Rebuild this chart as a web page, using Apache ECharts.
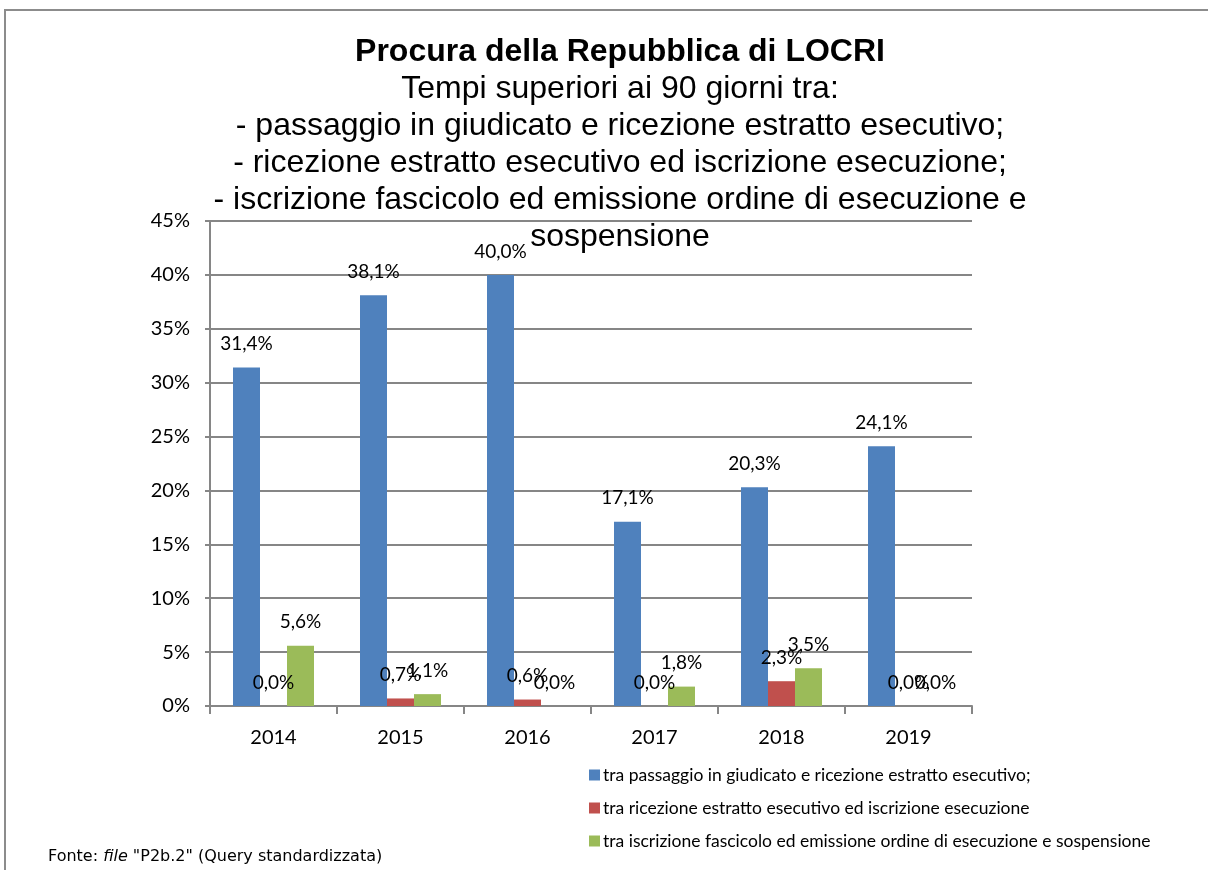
<!DOCTYPE html>
<html>
<head>
<meta charset="utf-8">
<title>Procura della Repubblica di LOCRI</title>
<script src="https://cdn.jsdelivr.net/npm/echarts@6/dist/echarts.min.js"></script>
<style>
  html, body { margin: 0; padding: 0; background: #fff; }
  #chart { width: 1208px; height: 870px; }
</style>
</head>
<body>
<div id="chart"></div>
<script>
// anni
const years = ["2014", "2015", "2016", "2017", "2018", "2019"];

// valori in %
const passaggioRicezione = [31.4, 38.1, 40.0, 17.1, 20.3, 24.1];
const ricezioneIscrizione = [0.0, 0.7, 0.6, 0.0, 2.3, 0.0];
const iscrizioneEmissione = [5.6, 1.1, 0.0, 1.8, 3.5, 0.0];

const seriesNames = [
  "tra passaggio in giudicato e ricezione estratto esecutivo;",
  "tra ricezione estratto esecutivo ed iscrizione esecuzione",
  "tra iscrizione fascicolo ed emissione ordine di esecuzione e sospensione"
];

const chartDom = document.getElementById("chart");
const myChart = echarts.init(chartDom);

const axisColor = "#868686";
const pct = (v) => v.toFixed(1).replace(".", ",") + "%";

const barLabel = {
  show: true,
  position: "top",
  distance: 14,
  color: "#000",
  fontFamily: "Lato",
  fontSize: 19,
  formatter: (p) => pct(p.value)
};

const option = {
  color: ["#4F81BD", "#C0504D", "#9BBB59"],
  animation: false,
  title: {
    left: 615,
    textAlign: "center",
    top: 29,
    itemGap: 0,
    text: "Procura della Repubblica di LOCRI",
    textStyle: {
      fontFamily: "Liberation Sans",
      fontWeight: "bold",
      fontSize: 32,
      lineHeight: 37,
      color: "#000"
    },
    subtext:
      "Tempi superiori ai 90 giorni tra:\n" +
      "- passaggio in giudicato e ricezione estratto esecutivo;\n" +
      "- ricezione estratto esecutivo ed iscrizione esecuzione;\n" +
      "- iscrizione fascicolo ed emissione ordine di esecuzione e\n" +
      "sospensione",
    subtextStyle: {
      fontFamily: "Liberation Sans",
      fontSize: 32,
      lineHeight: 37,
      color: "#000"
    }
  },
  legend: {
    orient: "vertical",
    left: 584,
    top: 761,
    itemWidth: 11,
    itemHeight: 11,
    itemGap: 15,
    icon: "rect",
    textStyle: {
      fontFamily: "Lato",
      fontSize: 17.5,
      color: "#000",
      padding: [0, 0, 0, -2]
    },
    data: seriesNames
  },
  grid: {
    left: 210,
    right: 236,
    top: 221,
    bottom: 164
  },
  xAxis: {
    type: "category",
    data: years,
    axisLine: { lineStyle: { color: axisColor, width: 2 } },
    axisTick: { show: true, length: 8, lineStyle: { color: axisColor, width: 2 } },
    axisLabel: {
      color: "#000",
      fontFamily: "Lato",
      fontSize: 20,
      margin: 22
    }
  },
  yAxis: {
    type: "value",
    min: 0,
    max: 45,
    interval: 5,
    axisLine: { show: true, lineStyle: { color: axisColor, width: 2 } },
    axisTick: { show: true, length: 5, lineStyle: { color: axisColor, width: 2 } },
    splitLine: { lineStyle: { color: axisColor, width: 2 } },
    axisLabel: {
      color: "#000",
      fontFamily: "Lato",
      fontSize: 20,
      margin: 20,
      formatter: "{value}%"
    }
  },
  graphic: [
    {
      type: "rect",
      shape: { x: 5, y: 10, width: 1240, height: 900 },
      style: { fill: "none", stroke: "#8c8c8c", lineWidth: 2 },
      silent: true
    },
    {
      type: "text",
      left: 48,
      top: 849,
      style: {
        text: "{n|Fonte: }{i|file}{n| \"P2b.2\" (Query standardizzata)}",
        rich: {
          n: { fontFamily: "DejaVu Sans", fontSize: 16, fill: "#000" },
          i: { fontFamily: "DejaVu Sans", fontSize: 16, fontStyle: "italic", fill: "#000" }
        }
      }
    }
  ],
  series: [
    {
      name: seriesNames[0],
      type: "bar",
      barWidth: 27,
      barGap: "0%",
      label: barLabel,
      data: passaggioRicezione
    },
    {
      name: seriesNames[1],
      type: "bar",
      barWidth: 27,
      barGap: "0%",
      label: barLabel,
      data: ricezioneIscrizione
    },
    {
      name: seriesNames[2],
      type: "bar",
      barWidth: 27,
      barGap: "0%",
      label: barLabel,
      data: iscrizioneEmissione
    }
  ]
};

window.addEventListener("resize", function () {
  myChart.resize();
});

option && myChart.setOption(option);
</script>
</body>
</html>
